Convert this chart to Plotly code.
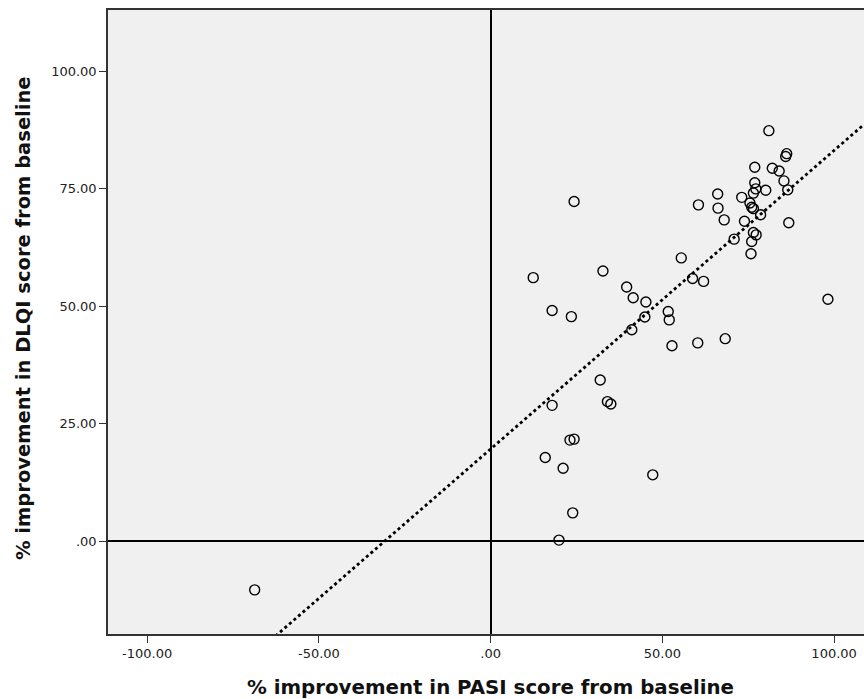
import numpy as np
import plotly.graph_objects as go

# % improvement in PASI score from baseline
pasi = [52.8, 31.9, 17.9, 34.0, 35.0, 23.1, 24.3, 15.9, 21.1, 47.2,
        23.9, 19.9, 24.3, 55.5, 12.4, 32.7, 39.6, 41.5, 45.2, 17.9,
        23.5, 44.9, 51.7, 52.0, 41.1, 58.8, 62.0, 60.3, 68.3, 98.2,
        -68.7, 81.0, 86.2, 85.9, 76.9, 82.0, 84.0, 85.4, 76.9, 77.2,
        76.5, 80.1, 86.5, 66.1, 73.1, 60.5, 66.2, 75.5, 76.0, 76.5,
        78.6, 68.0, 73.9, 86.8, 76.5, 77.3, 70.9, 76.0, 75.8]
# % improvement in DLQI score from baseline
dlqi = [41.6, 34.3, 28.9, 29.7, 29.2, 21.5, 21.7, 17.8, 15.5, 14.1,
        6.0, 0.2, 72.3, 60.3, 56.1, 57.5, 54.1, 51.8, 50.9, 49.1,
        47.8, 47.7, 48.9, 47.1, 45.0, 55.9, 55.3, 42.2, 43.1, 51.5,
        -10.4, 87.4, 82.5, 81.9, 79.6, 79.4, 78.8, 76.7, 76.3, 75.0,
        74.1, 74.7, 74.8, 73.9, 73.2, 71.6, 70.9, 72.0, 71.1, 70.8,
        69.5, 68.4, 68.1, 67.8, 65.7, 65.2, 64.3, 63.8, 61.2]

# Fit line
fit_intercept = 19.6
fit_slope = 0.636

x_tickvals = [-100, -50, 0, 50, 100]
x_ticktext = ["-100.00", "-50.00", ".00", "50.00", "100.00"]
y_tickvals = [0, 25, 50, 75, 100]
y_ticktext = [".00", "25.00", "50.00", "75.00", "100.00"]

x_range = [-111.4, 108.7]
y_range = [-19.8, 113.1]

fig = go.Figure()

fx = np.array(x_range)
fy = fit_intercept + fit_slope * fx
fig.add_trace(go.Scatter(x=fx, y=fy, mode="lines",
                         line=dict(color="black", width=2.8, dash="dot"),
                         hoverinfo="skip", showlegend=False))

fig.add_trace(go.Scatter(x=pasi, y=dlqi, mode="markers",
                         marker=dict(symbol="circle-open", size=10, color="black",
                                     line=dict(width=1.4, color="black")),
                         showlegend=False))

tickfont = dict(family="DejaVu Sans", size=13, color="#222222")

fig.update_layout(
    width=864, height=699,
    margin=dict(l=108, r=0, t=10, b=65),
    paper_bgcolor="white",
    plot_bgcolor="#F0F0F0",
    xaxis=dict(range=x_range, tickvals=x_tickvals, ticktext=x_ticktext,
               showgrid=False, zeroline=True, zerolinecolor="black", zerolinewidth=1.5,
               showline=True, linecolor="#333333", linewidth=1.5, mirror=True,
               ticks="outside", ticklen=7, tickcolor="#333333", tickwidth=1.3,
               tickfont=tickfont),
    yaxis=dict(range=y_range, tickvals=y_tickvals, ticktext=y_ticktext,
               showgrid=False, zeroline=True, zerolinecolor="black", zerolinewidth=1.5,
               showline=True, linecolor="#333333", linewidth=1.5, mirror=False,
               ticks="outside", ticklen=7, tickcolor="#333333", tickwidth=1.3,
               tickfont=tickfont),
    annotations=[
        dict(text="<b>% improvement in PASI score from baseline</b>",
             xref="paper", yref="paper", x=(490 - 108) / 756, y=-(687 - 634) / 624,
             xanchor="center", yanchor="middle", showarrow=False,
             font=dict(family="DejaVu Sans", size=19.8, color="#111111")),
        dict(text="<b>% improvement in DLQI score from baseline</b>",
             xref="paper", yref="paper", x=-(108 - 23) / 756, y=(634 - 318) / 624,
             xanchor="center", yanchor="middle", showarrow=False, textangle=-90,
             font=dict(family="DejaVu Sans", size=19.5, color="#111111")),
    ],
)

fig.write_html("out.html", config={"displayModeBar": False},
               post_script="document.body.style.margin='0px';document.body.style.overflow='hidden';")
